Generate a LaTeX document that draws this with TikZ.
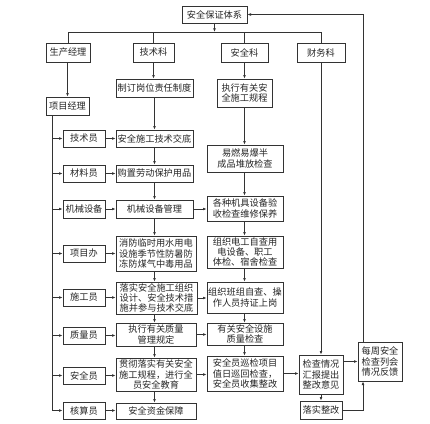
\documentclass[tikz,border=0pt]{standalone}
\usepackage{fontspec}
\newfontfamily\cjk{Noto Sans CJK SC}
\usetikzlibrary{arrows.meta}
\tikzset{
  box/.style={draw=black!80, line width=0.8pt, inner sep=0pt, align=center, text=black!85,
    font=\cjk\fontsize{9.2}{10.4}\selectfont},
  conn/.style={draw=black!80, line width=0.7pt},
  arr/.style={conn, -{Latex[length=3.6pt,width=2.8pt]}}
}
\newcommand\mybox[6]{\node[box, minimum width={#4pt-#2pt}, minimum height={#5pt-#3pt}] (#1) at ({(#2+#4)/2},{(#3+#5)/2}) {#6};}
\begin{document}
\begin{tikzpicture}[x=1pt,y=-1pt]
\useasboundingbox[fill=white] (0,0) rectangle (430,423);
% top
\mybox{top}{182}{6}{247}{23}{安全保证体系}
% level 2
\mybox{prod}{46}{43}{90}{62}{生产经理}
\mybox{tech}{133}{43}{174}{62}{技术科}
\mybox{safe}{221}{43}{268}{62}{安全科}
\mybox{fin}{297}{43}{345}{62}{财务科}
% level 3
\mybox{rule}{116}{79}{193}{97}{制订岗位责任制度}
\mybox{exec}{217}{79}{272}{107}{执行有关安\\全施工规程}
\mybox{pm}{46}{97}{89}{115}{项目经理}
% roles
\mybox{r1}{63}{130}{105}{147}{技术员}
\mybox{r2}{63}{165}{105}{182}{材料员}
\mybox{r3}{63}{200}{105}{218}{机械设备}
\mybox{r4}{63}{245}{105}{262}{项目办}
\mybox{r5}{63}{289}{105}{306}{施工员}
\mybox{r6}{63}{327}{105}{344}{质量员}
\mybox{r7}{63}{367}{105}{384}{安全员}
\mybox{r8}{63}{402}{105}{419}{核算员}
% column 2
\mybox{a1}{116}{130}{193}{147}{安全施工技术交底}
\mybox{a2}{116}{165}{193}{182}{购置劳动保护用品}
\mybox{a3}{116}{200}{193}{218}{机械设备管理}
\mybox{a4}{116}{236}{196}{271}{消防临时用水用电\\设施季节性防暑防\\冻防煤气中毒用品}
\mybox{a5}{116}{282}{197}{314}{落实安全施工组织\\设计、安全技术措\\施并参与技术交底}
\mybox{a6}{116}{323}{196}{346}{执行有关质量\\管理规定}
\mybox{a7}{116}{358}{196}{391}{贯彻落实有关安全\\施工规程，进行全\\员安全教育}
\mybox{a8}{116}{403}{196}{419}{安全资金保障}
% column 3
\mybox{b1}{207}{145}{283}{172}{易燃易爆半\\成品堆放检查}
\mybox{b2}{207}{196}{283}{221}{各种机具设备验\\收检查维修保养}
\mybox{b3}{207}{236}{283}{268}{组织电工自查用\\电设备、职工\\体检、宿舍检查}
\mybox{b4}{207}{282}{283}{313}{组织班组自查、操\\作人员持证上岗}
\mybox{b5}{207}{323}{283}{345}{有关安全设施\\质量检查}
\mybox{b6}{207}{356}{283}{391}{安全员巡检项目\\值日巡回检查，\\安全员收集整改}
% column 4
\mybox{c1}{299}{355}{343}{394}{检查情况\\汇报提出\\整改意见}
\mybox{c2}{300}{401}{342}{419}{落实整改}
\mybox{wk}{358}{342}{402}{381}{每周安全\\检查列会\\情况反馈}
% coordinates
\coordinate (bus) at (0,32);
\coordinate (sp) at (52,0);
\coordinate (fb) at (363,0);
% top to bus
\draw[arr] (top.south) -- (top.south |- bus);
\draw[conn] (prod.north) -- (prod.north |- bus) -- (fin.north |- bus) -- (fin.north);
\draw[conn] (tech.north) -- (tech.north |- bus);
\draw[conn] (safe.north) -- (safe.north |- bus);
% level 2 to level 3
\draw[arr] (prod.south -| pm.north) -- (pm.north);
\draw[arr] (tech.south) -- (tech.south |- rule.north);
\draw[arr] (safe.south) -- (safe.south |- exec.north);
\draw[arr] (fin.south) -- (fin.south |- c1.north);
% spine
\draw[conn] (pm.south -| sp) -- (sp |- r8.west);
\foreach \r in {r1,r2,r3,r4,r5,r6,r7,r8} {\draw[arr] (sp |- \r.west) -- (\r.west);}
% roles to column 2
\draw[arr] (r1.east) -- (a1.west);
\draw[arr] (r2.east) -- (a2.west);
\draw[arr] (r3.east) -- (a3.west);
\draw[arr] (r4.east) -- (r4.east -| a4.west);
\draw[arr] (r5.east) -- (r5.east -| a5.west);
\draw[arr] (r6.east) -- (r6.east -| a6.west);
\draw[arr] (r7.east) -- (r7.east -| a7.west);
\draw[arr] (r8.east) -- (r8.east -| a8.west);
% column 2 chain
\draw[arr] (rule.south) -- (a1.north);
\draw[arr] (a1.south) -- (a2.north);
\draw[arr] (a2.south) -- (a3.north);
\draw[arr] (a3.south) -- (a3.south |- a4.north);
\draw[arr] (a3.south |- a4.south) -- (a3.south |- a5.north);
\draw[arr] (a3.south |- a5.south) -- (a3.south |- a6.north);
\draw[arr] (a3.south |- a6.south) -- (a3.south |- a7.north);
\draw[arr] (a3.south |- a7.south) -- (a3.south |- a8.north);
% column 2 to column 3
\draw[arr] (a3.east) -- (a3.east -| b2.west);
\draw[arr] (a5.east) -- (a5.east -| b4.west);
\draw[arr] (a6.east) -- (a6.east -| b5.west);
\draw[arr] (a7.east) -- (a7.east -| b6.west);
% column 3 chain
\draw[arr] (exec.south) -- (exec.south |- b1.north);
\draw[arr] (exec.south |- b1.south) -- (exec.south |- b2.north);
\draw[arr] (exec.south |- b2.south) -- (exec.south |- b3.north);
\draw[arr] (exec.south |- b3.south) -- (exec.south |- b4.north);
\draw[arr] (exec.south |- b4.south) -- (exec.south |- b5.north);
\draw[arr] (exec.south |- b5.south) -- (exec.south |- b6.north);
% column 4
\draw[arr] (b6.east) -- (b6.east -| c1.west);
\draw[arr] (c1.south) -- (c1.south |- c2.north);
\draw[arr] (c1.east |- wk.west) -- (wk.west);
\draw[arr] (c2.east) -| (fb |- wk.south);
% feedback
\draw[arr] (fb |- wk.north) -- (fb |- top.east) -- (top.east);
\end{tikzpicture}
\end{document}
